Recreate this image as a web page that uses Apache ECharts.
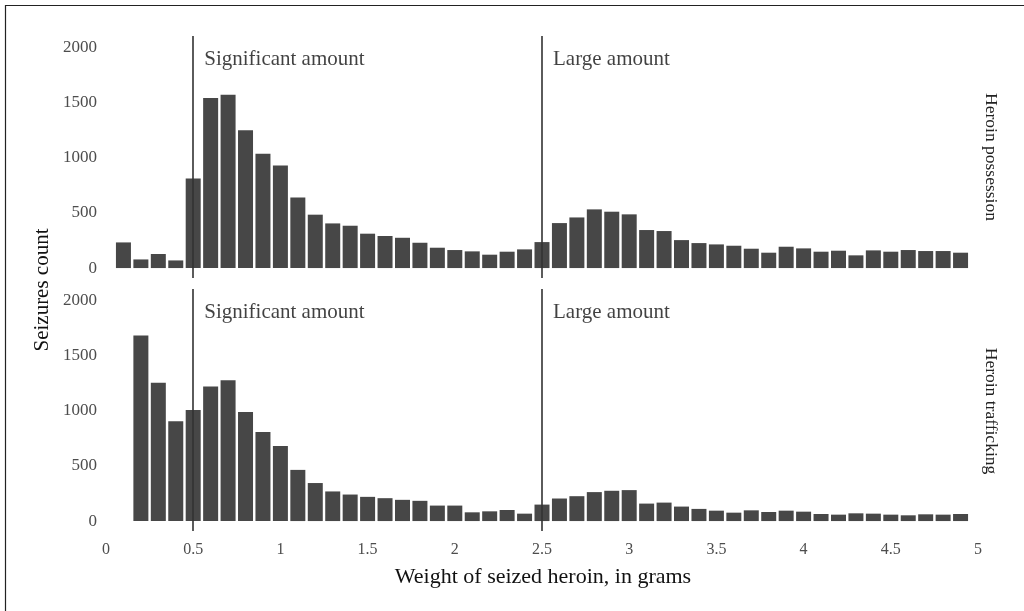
<!DOCTYPE html>
<html>
<head>
<meta charset="utf-8">
<script src="https://cdn.jsdelivr.net/npm/echarts@6/dist/echarts.min.js"></script>
<style>
html,body{margin:0;padding:0;background:#fff;}
#chart{width:1024px;height:611px;}
</style>
</head>
<body>
<div id="chart"></div>
<script>
const weights = [0.1,0.2,0.3,0.4,0.5,0.6,0.7,0.8,0.9,1.0,
  1.1,1.2,1.3,1.4,1.5,1.6,1.7,1.8,1.9,2.0,
  2.1,2.2,2.3,2.4,2.5,2.6,2.7,2.8,2.9,3.0,
  3.1,3.2,3.3,3.4,3.5,3.6,3.7,3.8,3.9,4.0,
  4.1,4.2,4.3,4.4,4.5,4.6,4.7,4.8,4.9];
const possession = [232,78,127,69,811,1538,1568,1246,1034,929,
  639,483,404,383,311,290,274,229,184,163,
  151,121,148,169,235,407,458,531,510,486,
  344,335,253,226,214,202,175,139,193,178,
  148,157,115,160,148,163,154,154,139];
const trafficking = [0,1680,1251,904,1005,1218,1275,986,807,679,
  463,344,268,240,219,207,192,183,140,140,
  79,88,100,67,149,204,225,262,274,280,
  158,167,131,110,94,76,97,82,94,85,
  64,58,70,67,58,52,61,58,64];
const panelNames = ['Heroin possession','Heroin trafficking'];
const thresholds = [0.5, 2.5];
const thresholdLabels = ['Significant amount','Large amount'];
const yTicks = [0,500,1000,1500,2000];

const SERIF = '"Liberation Serif","DejaVu Serif",serif';
const BAR = '#474747';
const chart = echarts.init(document.getElementById('chart'));

const grids = [
  {left:106, width:872, top:36, height:242},
  {left:106, width:872, top:289, height:242}
];
const xAxes = [0,1].map(i => ({
  type:'value', gridIndex:i, min:0, max:5, interval:0.5,
  axisLine:{show:false}, axisTick:{show:false}, splitLine:{show:false},
  axisLabel:{show:i===1, color:'#4d4d4d', fontFamily:SERIF, fontSize:16, margin:11,
    formatter: v => String(v)}
}));
const yAxes = [0,1].map(i => ({
  type:'value', gridIndex:i, min:-90, max:2100,
  axisLine:{show:false}, axisTick:{show:false}, splitLine:{show:false},
  axisLabel:{customValues:yTicks, color:'#4d4d4d', fontFamily:SERIF, fontSize:17, margin:9,
    formatter: v => String(v)}
}));
const datasets = [possession, trafficking];
const series = [];
datasets.forEach((vals, i) => {
  series.push({
    type:'bar', xAxisIndex:i, yAxisIndex:i,
    barWidth:15,
    itemStyle:{color:BAR},
    data: weights.map((w,k)=>[w, vals[k]]),
    markLine:{
      silent:true, symbol:['none','none'],
      label:{show:false},
      lineStyle:{color:'#333', width:1.6, type:'solid'},
      data: thresholds.map(t=>({xAxis:t}))
    }
  });
  series.push({
    type:'scatter', xAxisIndex:i, yAxisIndex:i,
    symbolSize:0,
    data: thresholds.map((t,k)=>({value:[t,1890], label:{formatter:thresholdLabels[k]}})),
    label:{show:true, position:'right', distance:11, color:'#111', fontFamily:SERIF, fontSize:21}
  });
});

chart.setOption({
  animation:false,
  backgroundColor:'#fff',
  grid:grids,
  xAxis:xAxes,
  yAxis:yAxes,
  series:series,
  graphic:[
    {type:'polyline', shape:{points:[[5.5,611],[5.5,5.5],[1024,5.5]]}, style:{fill:'none', stroke:'#222', lineWidth:1.2}},
    {type:'text', x:42, y:290, rotation:Math.PI/2, style:{text:'Seizures count', font:'21px '+SERIF, fill:'#111', textAlign:'center', textVerticalAlign:'middle'}},
    {type:'text', x:543, y:577, style:{text:'Weight of seized heroin, in grams', font:'22px '+SERIF, fill:'#111', textAlign:'center', textVerticalAlign:'middle'}},
    {type:'text', x:991, y:157, rotation:-Math.PI/2, style:{text:panelNames[0], font:'17.5px '+SERIF, fill:'#222', textAlign:'center', textVerticalAlign:'middle'}},
    {type:'text', x:991, y:411, rotation:-Math.PI/2, style:{text:panelNames[1], font:'17.5px '+SERIF, fill:'#222', textAlign:'center', textVerticalAlign:'middle'}}
  ]
});
</script>
</body>
</html>
